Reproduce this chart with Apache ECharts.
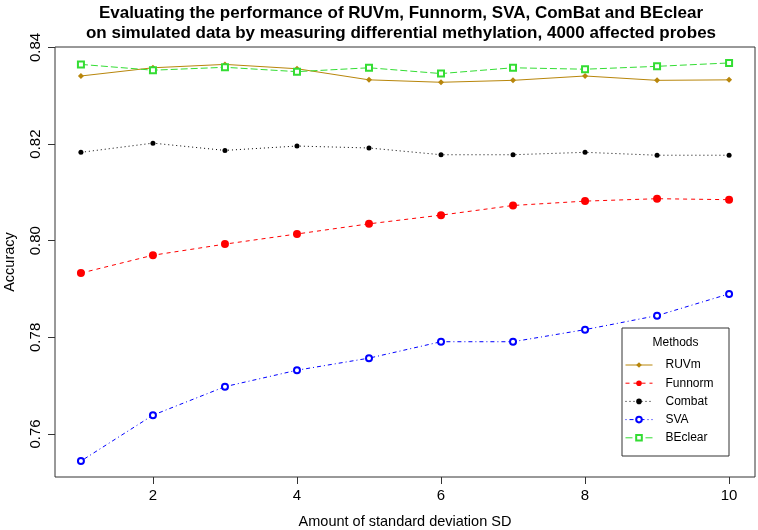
<!DOCTYPE html>
<html>
<head>
<meta charset="utf-8">
<script src="https://cdn.jsdelivr.net/npm/echarts@6/dist/echarts.min.js"></script>
<style>html,body{margin:0;padding:0;background:#fff}#c{width:758px;height:530px}</style>
</head>
<body>
<div id="c"></div>
<script>
const sdValues = [1, 2, 3, 4, 5, 6, 7, 8, 9, 10];
const ruvm    = [0.8341, 0.8358, 0.8365, 0.8356, 0.8333, 0.8328, 0.8332, 0.8341, 0.8332, 0.8333];
const funnorm = [0.7933, 0.7970, 0.7993, 0.8014, 0.8035, 0.8053, 0.8073, 0.8082, 0.8087, 0.8085];
const combat  = [0.8183, 0.8202, 0.8187, 0.8196, 0.8192, 0.8178, 0.8178, 0.8183, 0.8177, 0.8177];
const sva     = [0.7544, 0.7639, 0.7698, 0.7732, 0.7757, 0.7791, 0.7791, 0.7816, 0.7845, 0.7890];
const beclear = [0.8365, 0.8353, 0.8359, 0.8350, 0.8358, 0.8346, 0.8358, 0.8355, 0.8361, 0.8368];
const xTicks = [2, 4, 6, 8, 10];
const yTicks = [0.76, 0.78, 0.80, 0.82, 0.84];
const titleLines = [
  'Evaluating the performance of RUVm, Funnorm, SVA, ComBat and BEclear',
  'on simulated data by measuring differential methylation, 4000 affected probes'
];

const FONT = '"Liberation Sans", Arial, Helvetica, sans-serif';
const pairs = arr => sdValues.map((x, i) => [x, arr[i]]);

function mkSeries(name, data, color, dash, symbol, size, filled) {
  return {
    name, type: 'line', data: pairs(data),
    symbol, symbolSize: size,
    showSymbol: true,
    lineStyle: { color, width: 1, type: dash },
    itemStyle: filled ? { color, borderWidth: 0 } : { color, borderColor: color, borderWidth: 1 },
    emphasis: { disabled: true },
    animation: false
  };
}

const chart = echarts.init(document.getElementById('c'), null, { renderer: 'canvas' });
chart.setOption({
  backgroundColor: '#fff',
  animation: false,
  textStyle: { fontFamily: FONT },
  grid: { left: 55, right: 3, top: 47, bottom: 53, containLabel: false, outerBoundsMode: 'none',
    show: true, borderColor: '#333', borderWidth: 1, backgroundColor: 'transparent' },
  xAxis: {
    type: 'value', min: 0.64, max: 10.36,
    name: 'Amount of standard deviation SD', nameLocation: 'middle', nameGap: 37,
    nameTextStyle: { fontSize: 14.5, color: '#000', fontFamily: FONT },
    axisLine: { show: false },
    splitLine: { show: false },
    axisTick: { show: true, inside: false, length: 7, customValues: xTicks, lineStyle: { color: '#333' } },
    axisLabel: { customValues: xTicks, margin: 11, fontSize: 15, color: '#000', fontFamily: FONT }
  },
  yAxis: {
    type: 'value', min: 0.7511, max: 0.8401,
    name: 'Accuracy', nameLocation: 'middle', nameGap: 38,
    nameTextStyle: { fontSize: 14.5, color: '#000', fontFamily: FONT },
    axisLine: { show: false },
    splitLine: { show: false },
    axisTick: { show: true, inside: false, length: 7, customValues: yTicks, lineStyle: { color: '#333' } },
    axisLabel: { customValues: yTicks, rotate: 90, margin: 12, fontSize: 15, color: '#000', fontFamily: FONT,
      formatter: v => v.toFixed(2) }
  },
  legend: {
    orient: 'vertical', left: 625, top: 358, padding: 0,
    itemWidth: 27, itemHeight: 7, itemGap: 4.2,
    lineStyle: { width: 1 },
    textStyle: { fontSize: 12, color: '#000', fontFamily: FONT, lineHeight: 14, padding: [0, 0, 0, 8] },
    data: ['RUVm', 'Funnorm', 'Combat', 'SVA', 'BEclear']
  },
  graphic: [
    { type: 'text', x: 401, y: 13, style: { text: titleLines[0], font: 'bold 17px ' + FONT, fill: '#000', align: 'center', verticalAlign: 'middle' } },
    { type: 'text', x: 401, y: 33, style: { text: titleLines[1], font: 'bold 17px ' + FONT, fill: '#000', align: 'center', verticalAlign: 'middle' } },
    { type: 'rect', shape: { x: 622, y: 328, width: 107, height: 128 }, style: { fill: 'none', stroke: '#333', lineWidth: 1 }, z: 10 },
    { type: 'text', x: 675.5, y: 343, style: { text: 'Methods', font: '12px ' + FONT, fill: '#000', align: 'center', verticalAlign: 'middle' }, z: 10 }
  ],
  series: [
    mkSeries('RUVm', ruvm, '#B8860B', 'solid', 'diamond', 6, true),
    mkSeries('Funnorm', funnorm, '#FF0000', [4, 4], 'circle', 8, true),
    mkSeries('Combat', combat, '#000000', [1, 3], 'circle', 5, true),
    mkSeries('SVA', sva, '#0000FF', [1, 3, 4, 3], 'emptyCircle', 6, false),
    mkSeries('BEclear', beclear, '#33DD33', [7, 3], 'emptyRect', 6, false)
  ]
});
</script>
</body>
</html>
